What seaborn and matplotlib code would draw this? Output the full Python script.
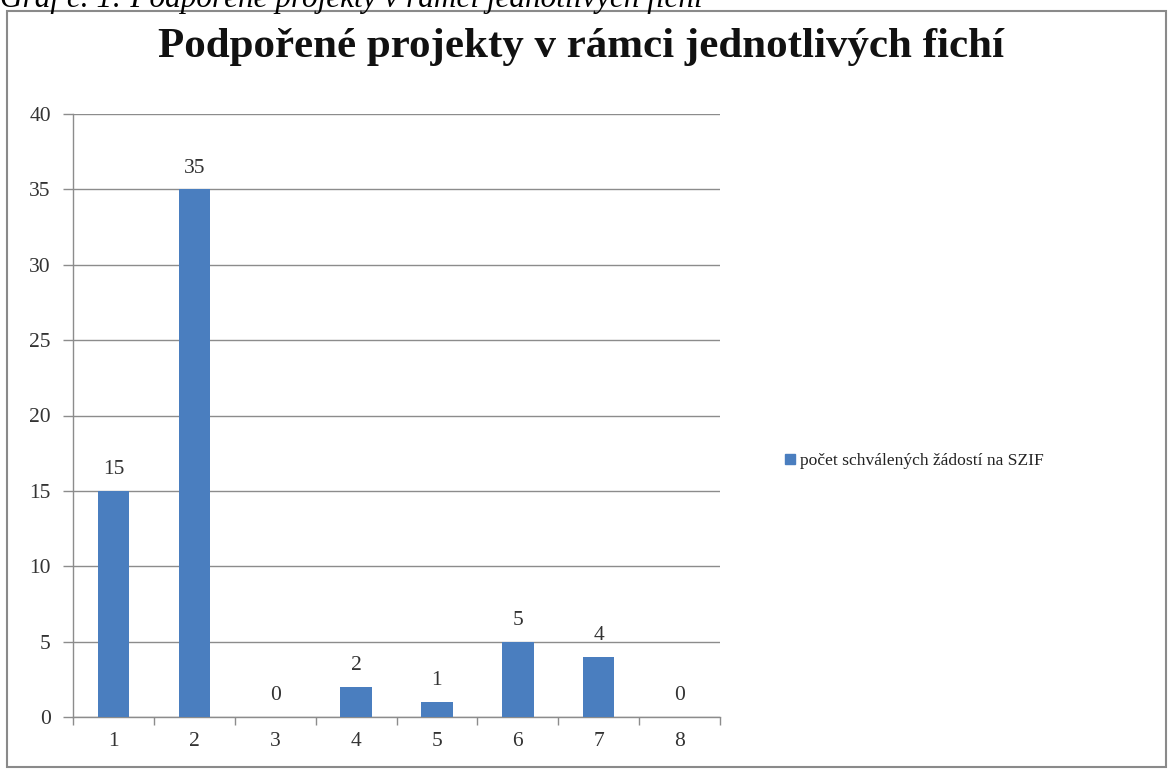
import matplotlib
matplotlib.use("Agg")
import matplotlib.pyplot as plt
import seaborn as sns
import pandas as pd
from matplotlib.patches import Rectangle
from matplotlib.lines import Line2D

categories = ["1", "2", "3", "4", "5", "6", "7", "8"]
values = [15, 35, 0, 2, 1, 5, 4, 0]
series_name = "počet schválených žádostí na SZIF"
title = "Podpořené projekty v rámci jednotlivých fichí"
caption = "Graf č. 1: Podpořené projekty v rámci jednotlivých fichí"
yticks = [0, 5, 10, 15, 20, 25, 30, 35, 40]

sns.set_theme(style="white")
plt.rcParams["font.family"] = ["Liberation Serif", "DejaVu Serif"]

W, H = 1168, 769
fig = plt.figure(figsize=(W / 100, H / 100), dpi=100)
ax = fig.add_axes([73 / W, 1 - 717 / H, (720 - 73) / W, (717 - 114) / H])

df = pd.DataFrame({"fiche": categories, "count": values})
bar_color = "#4A7EBF"
sns.barplot(data=df, x="fiche", y="count", color=bar_color, width=0.39,
            saturation=1, linewidth=0, ax=ax, zorder=3)

ax.set_xlim(-0.5, len(categories) - 0.5)
ax.set_ylim(0, 40)
ax.set_yticks(yticks)
ax.set_yticklabels([str(t) for t in yticks], fontsize=15.5, color="#333333")
ax.yaxis.grid(True, color="#8c8c8c", linewidth=1.0, zorder=0)
ax.xaxis.grid(False)

# x ticks at category boundaries, labels centered
ax.set_xticks([i - 0.5 for i in range(len(categories) + 1)])
ax.set_xticklabels([])
ax.set_xticks(range(len(categories)), minor=True)
ax.set_xticklabels(categories, minor=True, fontsize=15.5, color="#333333")
ax.tick_params(axis="x", which="major", direction="out", length=6, width=1,
               color="#8c8c8c", bottom=True)
ax.tick_params(axis="x", which="minor", length=0, pad=11)
ax.tick_params(axis="y", direction="out", length=7, width=1, color="#8c8c8c",
               left=True, pad=9)
ax.set_xlabel("")
ax.set_ylabel("")

for s in ["top", "right"]:
    ax.spines[s].set_visible(False)
for s in ["left", "bottom"]:
    ax.spines[s].set_color("#8c8c8c")
    ax.spines[s].set_linewidth(1.0)

for i, v in enumerate(values):
    ax.annotate(str(v), (i, v), xytext=(0, 12), textcoords="offset points",
                ha="center", va="baseline", fontsize=15.5, color="#333333")

# legend
handle = Line2D([], [], marker="s", linestyle="none", markersize=7,
                markerfacecolor=bar_color, markeredgecolor=bar_color)
fig.legend([handle], [series_name], loc="center left",
           bbox_to_anchor=(776 / W, 1 - 461 / H), frameon=False,
           fontsize=12.6, handlelength=0.6, handletextpad=0.3,
           borderpad=0, labelcolor="#222222")

# title
fig.text(581 / W, 1 - 47 / H, title, ha="center", va="center",
         fontsize=31, fontweight="bold", color="#111111")

# chart border
fig.add_artist(Rectangle((7 / W, 2 / H), (1166 - 7) / W, (758 - 2) / H,
                         transform=fig.transFigure, fill=False,
                         edgecolor="#8a8a8a", linewidth=1.5))

# cut-off caption above the chart
fig.text(0 / W, 1 - 7 / H, caption, ha="left", va="baseline",
         fontsize=22.5, fontstyle="italic", color="#000000")

fig.savefig("out.png", dpi=100, facecolor="white")
